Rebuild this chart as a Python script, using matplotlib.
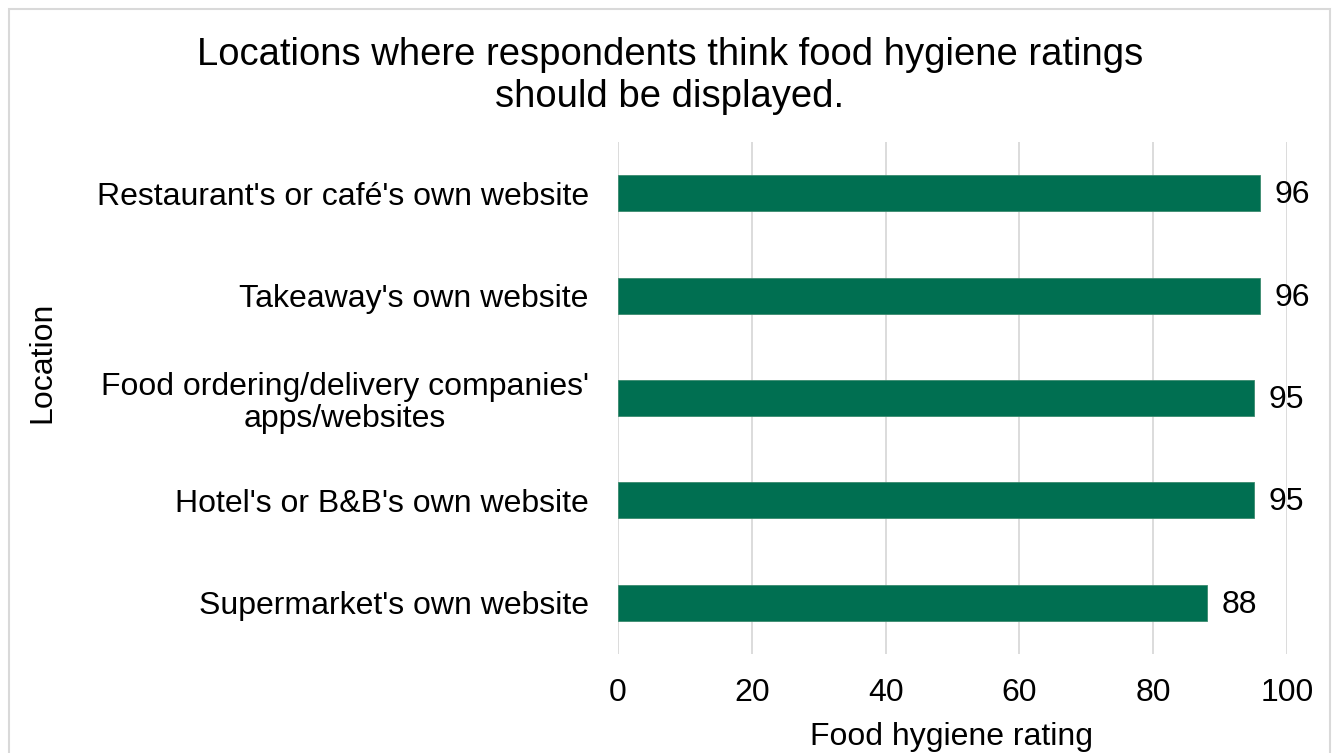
import matplotlib
matplotlib.use("Agg")
import matplotlib.pyplot as plt
from matplotlib.patches import Rectangle

categories = [
    "Restaurant's or café's own website",
    "Takeaway's own website",
    "Food ordering/delivery companies'\napps/websites",
    "Hotel's or B&B's own website",
    "Supermarket's own website",
]
values = [96, 96, 95, 95, 88]
xticks = [0, 20, 40, 60, 80, 100]

plt.rcParams['font.family'] = ['Liberation Sans', 'DejaVu Sans']

FS = 23
fig = plt.figure(figsize=(13.33, 7.53), dpi=100)
ax = fig.add_axes([618/1333, 1-654/753, (1287-618)/1333, (654-142)/753])

# figure border
fig.patches.append(Rectangle((9/1333, -0.05), (1330-9)/1333, 1.05 - 9/753,
                             transform=fig.transFigure, fill=False,
                             edgecolor='#d9d9d9', linewidth=1.5, zorder=0))

ypos = list(range(len(categories)))
bars = ax.barh(ypos, values, height=0.35, color='#006F51', edgecolor='#3a8a6e',
               linewidth=0.6, zorder=3)
ax.set_ylim(len(categories) - 0.5, -0.5)
ax.set_xlim(0, 100)
ax.set_xticks(xticks)
ax.set_xticklabels([str(t) for t in xticks], fontsize=FS)
ax.set_yticks(ypos)
ax.set_yticklabels(categories, fontsize=FS, multialignment='center',
                   linespacing=1.1)
ax.tick_params(axis='both', length=0)
ax.tick_params(axis='y', pad=21)
ax.tick_params(axis='x', pad=17)
ax.grid(axis='x', color='#d9d9d9', linewidth=1.3, zorder=0)
for s in ax.spines.values():
    s.set_visible(False)

for b, v in zip(bars, values):
    ax.text(b.get_width() + 2.2, b.get_y() + b.get_height()/2 + 0.02, str(v),
            va='center', ha='left', fontsize=FS)

fig.text(952/1333, 1-737/753, "Food hygiene rating", fontsize=FS,
         ha='center', va='center')
fig.text(42/1333, 1-362/753, "Location", rotation=90, fontsize=FS,
         ha='center', va='center')
fig.text(670/1333, 1-76/753,
         "Locations where respondents think food hygiene ratings\nshould be displayed.",
         fontsize=27.5, ha='center', va='center', linespacing=1.22)

fig.savefig("out.png", dpi=100)
